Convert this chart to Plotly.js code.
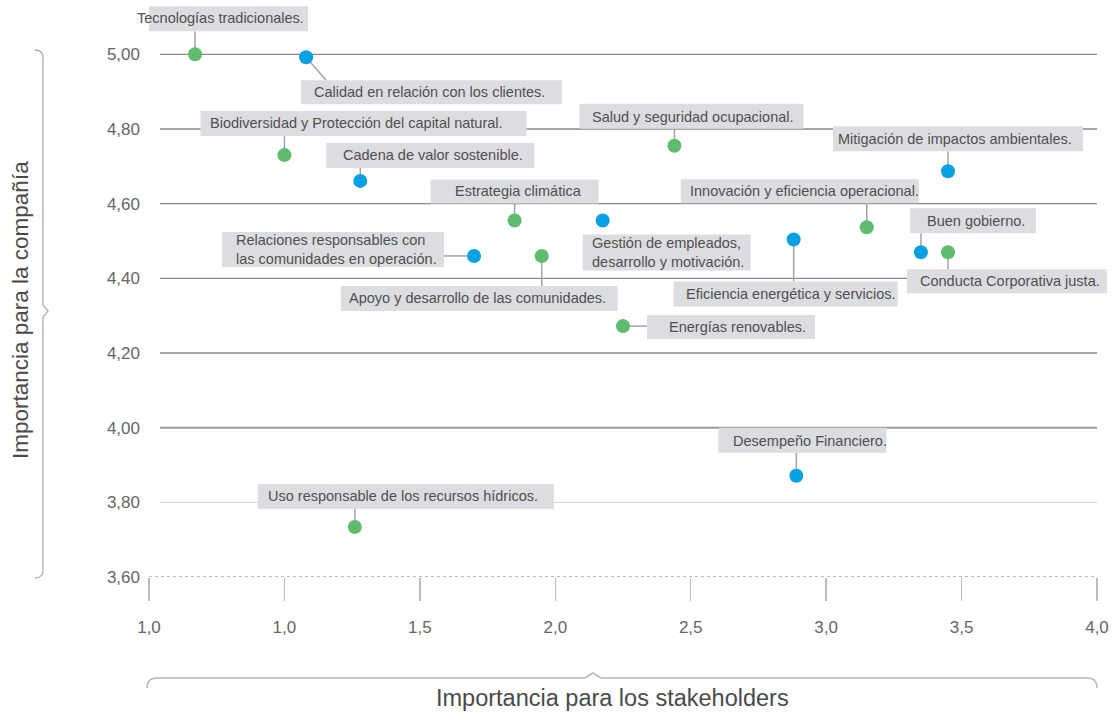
<!DOCTYPE html>
<html>
<head>
<meta charset="utf-8">
<script src="https://cdn.plot.ly/plotly-3.0.1.min.js"></script>
<style>
  html, body { margin: 0; padding: 0; background: #ffffff; }
  #chart { width: 1115px; height: 716px; }
</style>
</head>
<body>
<div id="chart"></div>
<script>
// ---------------- DATA ----------------
const greenTopics = [
  'Tecnologías tradicionales.',
  'Biodiversidad y Protección del capital natural.',
  'Salud y seguridad ocupacional.',
  'Estrategia climática',
  'Innovación y eficiencia operacional.',
  'Conducta Corporativa justa.',
  'Apoyo y desarrollo de las comunidades.',
  'Energías renovables.',
  'Uso responsable de los recursos hídricos.'
];
const greenX = [0.67, 1.00, 2.44, 1.85, 3.15, 3.45, 1.95, 2.25, 1.26];
const greenY = [5.00, 4.73, 4.755, 4.555, 4.537, 4.47, 4.46, 4.272, 3.734];

const blueTopics = [
  'Calidad en relación con los clientes.',
  'Cadena de valor sostenible.',
  'Mitigación de impactos ambientales.',
  'Gestión de empleados,<br>desarrollo y motivación.',
  'Eficiencia energética y servicios.',
  'Buen gobierno.',
  'Relaciones responsables con<br>las comunidades en operación.',
  'Desempeño Financiero.'
];
const blueX = [1.08, 1.28, 3.45, 2.175, 2.88, 3.35, 1.70, 2.89];
const blueY = [4.992, 4.661, 4.687, 4.555, 4.504, 4.47, 4.46, 3.871];

const yTickVals = [3.6, 3.8, 4.0, 4.2, 4.4, 4.6, 4.8, 5.0];
const yTickText = ['3,60', '3,80', '4,00', '4,20', '4,40', '4,60', '4,80', '5,00'];
const xTickVals = [0.5, 1.0, 1.5, 2.0, 2.5, 3.0, 3.5, 4.0];
const xTickText = ['1,0', '1,0', '1,5', '2,0', '2,5', '3,0', '3,5', '4,0'];

const xTitle = 'Importancia para los stakeholders';
const yTitle = 'Importancia para la compañía';

// ------------- LABEL LAYOUT (pixel offsets from each point) -------------
// box: [left, top, right, bottom]; tx: text left; ty: text centre; conn: connector end
const labelLayout = {
  'Tecnologías tradicionales.':                       {box: [-67, -48, 113, -23], tx: -59, ty: -36, conn: [0, -23]},
  'Calidad en relación con los clientes.':            {box: [-5, 23, 256, 47],    tx: 7,   ty: 35,  conn: [20, 23]},
  'Biodiversidad y Protección del capital natural.':  {box: [-84, -44, 242, -19], tx: -75, ty: -32, conn: [0, -19]},
  'Cadena de valor sostenible.':                      {box: [-34, -38, 174, -13], tx: -18, ty: -25.5, conn: [0, -13]},
  'Salud y seguridad ocupacional.':                   {box: [-95, -42, 129, -17], tx: -83, ty: -29, conn: [0, -17]},
  'Mitigación de impactos ambientales.':              {box: [-115, -45, 135, -20], tx: -111, ty: -32.5, conn: [0, -20]},
  'Estrategia climática':                             {box: [-84, -41, 84, -17],  tx: -61, ty: -29, conn: [0, -17]},
  'Gestión de empleados,<br>desarrollo y motivación.':{box: [-20, 14, 148, 50],   tx: -12, ty: 32,  conn: null},
  'Innovación y eficiencia operacional.':             {box: [-186, -48, 52, -24], tx: -178, ty: -36, conn: [0, -24]},
  'Eficiencia energética y servicios.':               {box: [-120, 42, 104, 67],  tx: -109, ty: 54.5, conn: [0, 42]},
  'Buen gobierno.':                                   {box: [-11, -44, 115, -19], tx: 5,   ty: -31.5, conn: [0, -19]},
  'Conducta Corporativa justa.':                      {box: [-41, 17, 159, 41],   tx: -29, ty: 29,  conn: [0, 17]},
  'Relaciones responsables con<br>las comunidades en operación.': {box: [-252, -24, -30, 11], tx: -239, ty: -6.5, conn: [-30, 0]},
  'Apoyo y desarrollo de las comunidades.':           {box: [-201, 30, 76, 55],   tx: -194, ty: 42.5, conn: [0, 30]},
  'Energías renovables.':                             {box: [24, -11, 192, 13],   tx: 45,  ty: 1,   conn: [24, 0]},
  'Desempeño Financiero.':                            {box: [-78, -48, 90, -23],  tx: -64, ty: -35, conn: [0, -23]},
  'Uso responsable de los recursos hídricos.':        {box: [-97, -43, 199, -18], tx: -88, ty: -30.5, conn: [0, -18]}
};

// ---------------- STYLES ----------------
const GREEN = '#5fbc6f';
const BLUE = '#07a1e2';
const BOX = '#dcdde0';
const CONN = '#a3a3a3';
const TEXT = '#505050';
const FONT = 'Liberation Sans, Arial, Helvetica, sans-serif';

const traces = [
  {type: 'scatter', mode: 'markers', name: 'Verde', x: greenX, y: greenY, text: greenTopics,
   marker: {color: GREEN, size: 14}, hoverinfo: 'text', showlegend: false, cliponaxis: false},
  {type: 'scatter', mode: 'markers', name: 'Azul', x: blueX, y: blueY, text: blueTopics,
   marker: {color: BLUE, size: 14}, hoverinfo: 'text', showlegend: false, cliponaxis: false}
];

const shapes = [];
const annotations = [];

// grid lines: horizontal at each y tick, drawn across the tick span of the x axis
yTickVals.forEach(function (v, i) {
  let line;
  if (i === 0) line = {color: '#7a7a7a', width: 1, dash: 'dot'};
  else if (i === 1) line = {color: '#d2d2d2', width: 1};
  else if (i === 2) line = {color: '#9a9a9a', width: 2};
  else line = {color: '#8a8a8a', width: 1.3};
  shapes.push({type: 'line', layer: 'below', xref: 'x', yref: 'y',
    xsizemode: 'pixel', xanchor: xTickVals[0],
    x0: i === 0 ? 0 : 11, x1: 948, y0: v, y1: v, line: line});
});

function addLabels(topics, xs, ys) {
  topics.forEach(function (t, i) {
    const L = labelLayout[t];
    const px = xs[i], py = ys[i];
    if (L.conn) {
      shapes.push({type: 'line', layer: 'below', xref: 'x', yref: 'y',
        xsizemode: 'pixel', ysizemode: 'pixel', xanchor: px, yanchor: py,
        x0: 0, y0: 0, x1: L.conn[0], y1: -L.conn[1],
        line: {color: CONN, width: 1.5}});
    }
    shapes.push({type: 'rect', layer: 'below', xref: 'x', yref: 'y',
      xsizemode: 'pixel', ysizemode: 'pixel', xanchor: px, yanchor: py,
      x0: L.box[0], x1: L.box[2], y0: -L.box[1], y1: -L.box[3],
      fillcolor: BOX, line: {width: 0}});
    annotations.push({xref: 'x', yref: 'y', x: px, y: py, text: t,
      showarrow: false, xanchor: 'left', yanchor: 'middle', align: 'left',
      xshift: L.tx, yshift: -L.ty, borderpad: 0,
      font: {family: FONT, size: 14.5, color: TEXT}});
  });
}
addLabels(greenTopics, greenX, greenY);
addLabels(blueTopics, blueX, blueY);

// axis titles
annotations.push({xref: 'paper', yref: 'paper', x: 0.5, y: 0, xshift: -20, yshift: -121,
  xanchor: 'center', yanchor: 'middle', showarrow: false, text: xTitle,
  font: {family: FONT, size: 23.5, color: '#4a4a4a'}});
annotations.push({xref: 'paper', yref: 'paper', x: 0, y: 0.4627, xshift: -129,
  xanchor: 'center', yanchor: 'middle', showarrow: false, text: yTitle, textangle: -90,
  font: {family: FONT, size: 22.5, color: '#4a4a4a'}});

// braces (pixel paths relative to plot-area bottom-left corner)
shapes.push({type: 'path', layer: 'below', xref: 'paper', yref: 'paper',
  xsizemode: 'pixel', ysizemode: 'pixel', xanchor: 0, yanchor: 0,
  path: 'M-114,527 Q-106,527 -106,519 L-106,272 L-101,266 L-106,260 L-106,7 Q-106,-1 -114,-1',
  line: {color: '#b0b0b0', width: 1.3}});
shapes.push({type: 'path', layer: 'below', xref: 'paper', yref: 'paper',
  xsizemode: 'pixel', ysizemode: 'pixel', xanchor: 0, yanchor: 0,
  path: 'M-2,-111 Q-2,-101 8,-101 L436,-101 L444,-96 L452,-101 L938,-101 Q948,-101 948,-111',
  line: {color: '#b8b8b8', width: 1.5}});

const layout = {
  width: 1115, height: 716,
  margin: {l: 149, r: 0, t: 0, b: 139},
  paper_bgcolor: '#ffffff', plot_bgcolor: '#ffffff',
  showlegend: false,
  font: {family: FONT, color: '#666666'},
  xaxis: {
    range: [0.5, 4.0665], tickmode: 'array', tickvals: xTickVals, ticktext: xTickText,
    showgrid: false, zeroline: false, showline: false,
    ticks: 'outside', ticklen: 23, tickwidth: 1.5, tickcolor: '#bdbdbd',
    ticklabelstandoff: 12,
    tickfont: {family: FONT, size: 17, color: '#666666'}
  },
  yaxis: {
    range: [3.6, 5.1455], tickmode: 'array', tickvals: yTickVals, ticktext: yTickText,
    showgrid: false, zeroline: false, showline: false, ticks: '',
    ticklabelstandoff: 8,
    tickfont: {family: FONT, size: 17, color: '#666666'}
  },
  shapes: shapes,
  annotations: annotations
};

Plotly.newPlot('chart', traces, layout, {displayModeBar: false, staticPlot: true});
</script>
</body>
</html>
